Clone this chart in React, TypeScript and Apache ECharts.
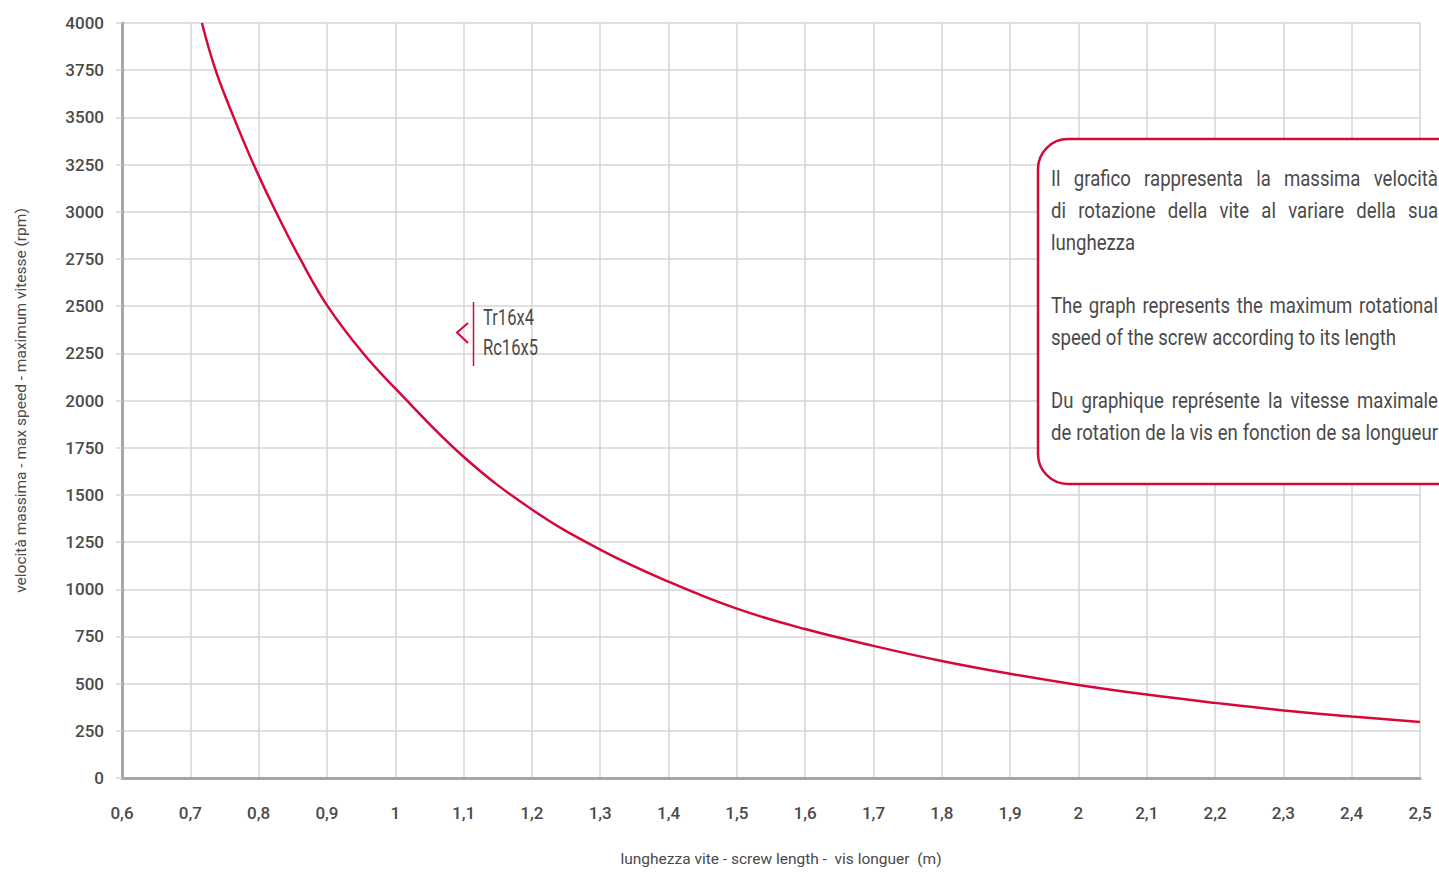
import React, { useEffect, useRef } from "react";
import * as echarts from "echarts";

// ---- data ----
const LENGTHS_M = [0.717, 0.737, 0.7636, 0.7927, 0.8252, 0.8609, 0.9009, 0.953, 1.0, 1.1, 1.2, 1.3, 1.4, 1.5, 1.6, 1.7, 1.8, 1.9, 2.0, 2.1, 2.2, 2.3, 2.4, 2.5];
const SPEEDS_RPM = [4000, 3750, 3500, 3250, 3000, 2750, 2500, 2250, 2064, 1702, 1423, 1210, 1040, 897, 789, 700, 620, 552, 493, 442, 398, 358, 326, 297];

const X_MIN = 0.6;
const X_MAX = 2.5;
const X_STEP = 0.1;
const Y_MIN = 0;
const Y_MAX = 4000;
const Y_STEP = 250;

const SERIES_LABELS = ["Tr16x4", "Rc16x5"];
const Y_NAME = "velocità massima - max speed - maximum vitesse (rpm)";
const X_NAME = "lunghezza vite - screw length -  vis longuer  (m)";

const NOTE_LINES: { text: string; justify: boolean }[] = [
  { text: "Il grafico rappresenta la massima velocità", justify: true },
  { text: "di rotazione della vite al variare della sua", justify: true },
  { text: "lunghezza", justify: false },
  { text: "", justify: false },
  { text: "The graph represents the maximum  rotational", justify: true },
  { text: "speed of the screw according to its length", justify: false },
  { text: "", justify: false },
  { text: "Du graphique représente la vitesse maximale", justify: true },
  { text: "de rotation de la vis en fonction de sa longueur", justify: true },
];

const RED = "#d6083a";
const TEXT = "#4a4a4a";
const FONT = "Roboto, 'Noto Sans', sans-serif";

function measurer(fontStr: string) {
  const canvas = document.createElement("canvas");
  const ctx = canvas.getContext("2d")!;
  ctx.font = fontStr;
  return (t: string) => ctx.measureText(t).width;
}

function buildNote(): any[] {
  const size = 23;
  const fontStr = `${size}px ${FONT}`;
  const m = measurer(fontStr);
  const left = 1051;
  const right = 1438;
  const width = right - left;
  // horizontal condensation so the reference's unjustified line matches its width
  const s = Math.min(1.1, 345 / m("speed of the screw according to its length"));
  const spaceW = m(" ") * s;
  const top = 178;
  const lh = 32;
  const els: any[] = [];
  NOTE_LINES.forEach((ln, i) => {
    if (!ln.text) return;
    const y = top + i * lh - (i >= 4 ? 1 : 0) - (i >= 7 ? 1 : 0);
    const words = ln.text.split(/\s+/);
    const widths = words.map((w) => m(w) * s);
    const total = widths.reduce((a, b) => a + b, 0);
    const gap = ln.justify && words.length > 1 ? (width - total) / (words.length - 1) : spaceW;
    let x = left;
    words.forEach((w, k) => {
      els.push({
        type: "text",
        x,
        y,
        z: 60,
        scaleX: s,
        silent: true,
        style: { text: w, font: fontStr, fill: TEXT, textAlign: "left", textVerticalAlign: "middle" },
      });
      x += widths[k] + gap;
    });
  });
  return els;
}

function buildMarker(): any[] {
  const fontStr = `22px ${FONT}`;
  const m = measurer(fontStr);
  const s = Math.min(1.1, 51 / m(SERIES_LABELS[0]));
  return [
    { type: "line", z: 60, silent: true, shape: { x1: 473.5, y1: 302, x2: 473.5, y2: 366 }, style: { stroke: RED, lineWidth: 1.5 } },
    { type: "polyline", z: 60, silent: true, shape: { points: [[468, 323], [457, 332.5], [468, 343]] }, style: { stroke: RED, lineWidth: 2, fill: "none" } },
    ...SERIES_LABELS.map((t, i) => ({
      type: "text",
      z: 60,
      silent: true,
      x: 483,
      y: 318 + i * 30,
      scaleX: s,
      style: { text: t, font: fontStr, fill: TEXT, textVerticalAlign: "middle" },
    })),
  ];
}

export default function App() {
  const ref = useRef<HTMLDivElement>(null);
  useEffect(() => {
    document.body.style.margin = "0";
    document.body.style.overflow = "hidden";
    const chart = echarts.init(ref.current!, null, { renderer: "svg" });
    const data = LENGTHS_M.map((x, i) => [x, SPEEDS_RPM[i]]);
    const option: any = {
      animation: false,
      backgroundColor: "#ffffff",
      textStyle: { fontFamily: FONT },
      grid: { left: 122, right: 19, top: 23, bottom: 94, containLabel: false },
      xAxis: {
        type: "value",
        min: X_MIN,
        max: X_MAX,
        interval: X_STEP,
        name: X_NAME,
        nameLocation: "middle",
        nameGap: 73,
        nameTextStyle: { fontSize: 15.5, color: TEXT, fontFamily: FONT, padding: [0, 0, 0, 20] },
        axisLine: { show: true, onZero: false, lineStyle: { color: "#a6a6a6", width: 3 } },
        axisTick: { show: false },
        splitLine: { show: true, lineStyle: { color: "#d4d4d4", width: 1.5 } },
        axisLabel: {
          fontSize: 17,
          fontWeight: 500,
          color: TEXT,
          margin: 26,
          fontFamily: FONT,
          formatter: (v: number) => String(Math.round(v * 10) / 10).replace(".", ","),
        },
      },
      yAxis: {
        type: "value",
        min: Y_MIN,
        max: Y_MAX,
        interval: Y_STEP,
        name: Y_NAME,
        nameLocation: "middle",
        nameGap: 93,
        nameTextStyle: { fontSize: 15.5, color: TEXT, fontFamily: FONT },
        axisLine: { show: true, lineStyle: { color: "#a6a6a6", width: 3 } },
        axisTick: { show: true, length: 6, lineStyle: { color: "#d4d4d4", width: 1.5 } },
        splitLine: { show: true, lineStyle: { color: "#d4d4d4", width: 1.5 } },
        axisLabel: { fontSize: 17, fontWeight: 500, color: TEXT, margin: 18, fontFamily: FONT, formatter: (v: number) => String(v) },
      },
      series: [
        {
          type: "line",
          data,
          smooth: 0.4,
          showSymbol: false,
          symbol: "none",
          clip: true,
          lineStyle: { color: RED, width: 2.5 },
        },
      ],
      graphic: [
        ...buildMarker(),
        {
          type: "rect",
          z: 50,
          silent: true,
          shape: { x: 1038, y: 139, width: 430, height: 345, r: 30 },
          style: { fill: "#ffffff", stroke: RED, lineWidth: 2.5 },
        },
        ...buildNote(),
      ],
    };
    chart.setOption(option);
    return () => chart.dispose();
  }, []);
  return <div ref={ref} style={{ position: "absolute", left: 0, top: 0, width: 1439, height: 872 }} />;
}
